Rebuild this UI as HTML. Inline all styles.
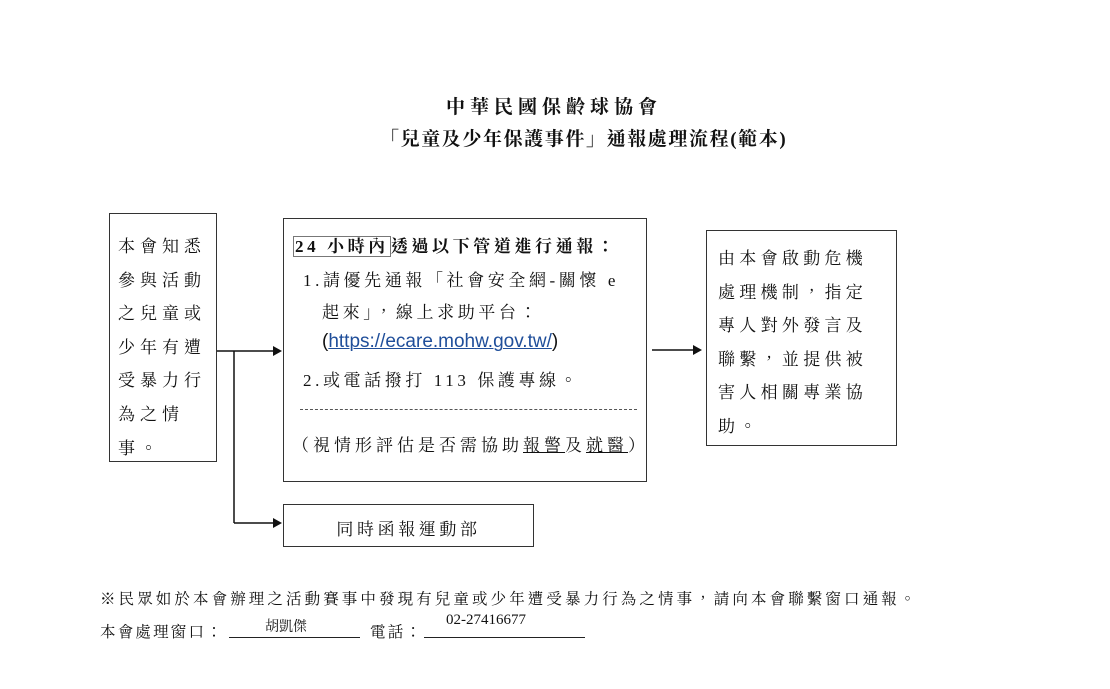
<!DOCTYPE html>
<html><head><meta charset="utf-8"><style>
body{margin:0;width:1110px;height:689px;background:#fff;position:relative;overflow:hidden;font-family:"Liberation Serif","Noto Serif CJK TC","Noto Serif CJK SC",serif;color:#111}
.a{position:absolute;white-space:nowrap}
.box{position:absolute;border:1.5px solid #333;box-sizing:border-box}
.t{font-size:19px;font-weight:bold}
.l{font-size:17px;letter-spacing:3.6px}
u{text-decoration-thickness:1px}
</style></head><body>
<div class="a t" style="left:446px;top:92px;letter-spacing:5px">中華民國保齡球協會</div>
<div class="a t" style="left:380px;top:124px;letter-spacing:1.6px">「兒童及少年保護事件」通報處理流程(範本)</div>

<div class="box" style="left:109px;top:213px;width:108px;height:249px"></div>
<div class="a l" style="left:118px;top:230px;line-height:33.6px;letter-spacing:5px">本會知悉<br>參與活動<br>之兒童或<br>少年有遭<br>受暴力行<br>為之情<br>事。</div>

<div class="box" style="left:283px;top:218px;width:364px;height:264px"></div>
<div class="a l" style="left:293px;top:232px;font-weight:bold"><span style="border:1px solid #777;padding:0 1px">24 小時內</span>透過以下管道進行通報：</div>
<div class="a l" style="left:303px;top:266px">1.請優先通報「社會安全網-關懷 e</div>
<div class="a l" style="left:322px;top:298px">起來」，線上求助平台：</div>
<div class="a" style="left:322px;top:331px;font-family:'Liberation Sans',sans-serif;font-size:19px">(<u style="color:#1f4e9a">https://ecare.mohw.gov.tw/</u>)</div>
<div class="a l" style="left:303px;top:366px">2.或電話撥打 113 保護專線。</div>
<div class="a" style="left:300px;top:409px;width:337px;border-top:1px dashed #555"></div>
<div class="a l" style="left:292px;top:431px;letter-spacing:4px">（視情形評估是否需協助<u>報警</u>及<u>就醫</u>）</div>

<div class="box" style="left:706px;top:230px;width:191px;height:216px"></div>
<div class="a l" style="left:718px;top:242px;line-height:33.5px;letter-spacing:4.3px">由本會啟動危機<br>處理機制，指定<br>專人對外發言及<br>聯繫，並提供被<br>害人相關專業協<br>助。</div>

<div class="box" style="left:283px;top:504px;width:251px;height:43px"></div>
<div class="a l" style="left:283px;width:251px;text-align:center;top:515px">同時函報運動部</div>

<svg class="a" style="left:0;top:0" width="1110" height="689">
<g stroke="#111" stroke-width="1.5" fill="none">
<line x1="217" y1="351" x2="276" y2="351"/>
<line x1="234" y1="351" x2="234" y2="523"/>
<line x1="234" y1="523" x2="276" y2="523"/>
<line x1="652" y1="350" x2="696" y2="350"/>
</g>
<g fill="#111">
<polygon points="282,351 273,346 273,356"/>
<polygon points="282,523 273,518 273,528"/>
<polygon points="702,350 693,345 693,355"/>
</g>
</svg>

<div class="a" style="left:100px;top:587px;font-size:15.5px;letter-spacing:3.1px">※民眾如於本會辦理之活動賽事中發現有兒童或少年遭受暴力行為之情事，請向本會聯繫窗口通報。</div>
<div class="a" style="left:100px;top:620px;font-size:15.5px;letter-spacing:2.2px">本會處理窗口：</div>
<div class="a" style="left:229px;top:637px;width:131px;border-top:1px solid #222"></div>
<div class="a" style="left:265px;top:616px;font-size:14px">胡凱傑</div>
<div class="a" style="left:370px;top:620px;font-size:15.5px;letter-spacing:2.2px">電話：</div>
<div class="a" style="left:424px;top:637px;width:161px;border-top:1px solid #222"></div>
<div class="a" style="left:446px;top:612px;font-size:15px">02-27416677</div>
</body></html>
